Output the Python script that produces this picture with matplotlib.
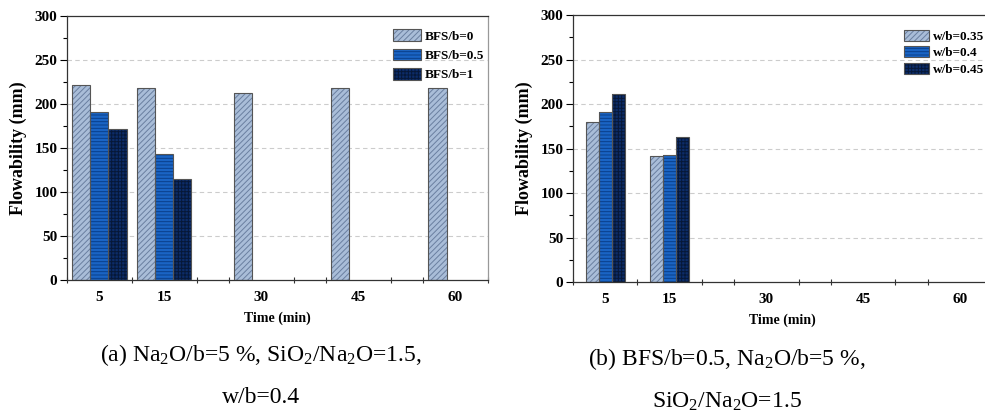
import matplotlib
matplotlib.use("Agg")
import matplotlib.pyplot as plt
from matplotlib.patches import Patch
import numpy as np

plt.rcParams['font.family'] = ['Liberation Serif', 'DejaVu Serif']
plt.rcParams['mathtext.fontset'] = 'custom'
plt.rcParams['mathtext.rm'] = 'Liberation Serif'
plt.rcParams['mathtext.it'] = 'Liberation Serif:italic'
plt.rcParams['mathtext.bf'] = 'Liberation Serif:bold'
plt.rcParams['hatch.linewidth'] = 0.7

times = [5, 15, 30, 45, 60]
time_labels = ['5', '15', '30', '45', '60']

# Panel (a)
a_labels = ['BFS/b=0', 'BFS/b=0.5', 'BFS/b=1']
a_bfs0 = [222, 218, 213, 218, 218]
a_bfs05 = [191, 143, 0, 0, 0]
a_bfs1 = [172, 115, 0, 0, 0]

# Panel (b)
b_labels = ['w/b=0.35', 'w/b=0.4', 'w/b=0.45']
b_w035 = [180, 142, 0, 0, 0]
b_w04 = [191, 143, 0, 0, 0]
b_w045 = [211, 163, 0, 0, 0]

faces = ['#a9bdd8', '#1a64c4', '#0c2c68']
hatch_cols = ['#6a7fa0', '#0a3f8a', '#061838']
hatches = ['//////', '-----', '+++++']
outline = '#555555'

fig = plt.figure(figsize=(9.85, 4.19), dpi=100)
W, H = 985, 419

def make_ax(l, t, r, b):
    return fig.add_axes([l / W, 1 - b / H, (r - l) / W, (b - t) / H])

ax1 = make_ax(67, 16, 488, 280)
ax2 = make_ax(573, 15, 992, 282)

def draw(ax, series, labels, width, step):
    ax.set_xlim(0, 65)
    ax.set_ylim(0, 300)
    ax.set_axisbelow(True)
    for y in [50, 100, 150, 200, 250]:
        ax.axhline(y, color='#cccccc', ls=(0, (4, 3)), lw=0.8, zorder=0)
    x = np.array(times, dtype=float)
    handles = []
    for i, vals in enumerate(series):
        xs = x + (i - 1) * step
        v = np.array(vals, dtype=float)
        m = v > 0
        ax.bar(xs[m], v[m], width=width, color=faces[i], edgecolor=hatch_cols[i],
               hatch=hatches[i], linewidth=0, zorder=2)
        ax.bar(xs[m], v[m], width=width, fill=False, edgecolor=outline,
               linewidth=0.8, zorder=3)
        h1 = Patch(facecolor=faces[i], edgecolor=hatch_cols[i], hatch=hatches[i], linewidth=0)
        h2 = Patch(fill=False, edgecolor=outline, linewidth=0.8)
        handles.append((h1, h2))
    ax.set_xticks(times)
    ax.set_xticklabels(time_labels)
    ax.tick_params(axis='x', which='major', length=0, pad=8)
    ax.set_xticks([0, 10, 20, 25, 35, 40, 50, 55, 65], minor=True)
    ax.tick_params(axis='x', which='minor', length=5, direction='inout', width=0.8, color='#333333')
    ax.set_yticks(np.arange(0, 301, 50))
    ax.set_yticks(np.arange(25, 300, 50), minor=True)
    ax.tick_params(axis='y', which='major', length=5, direction='out', width=0.8, pad=2)
    ax.tick_params(axis='y', which='minor', length=3, direction='out', width=0.8)
    for lab in ax.get_xticklabels() + ax.get_yticklabels():
        lab.set_fontweight('bold')
        lab.set_fontsize(11)
    for s in ['left', 'bottom', 'top']:
        ax.spines[s].set_color('#333333')
        ax.spines[s].set_linewidth(0.9)
    ax.spines['right'].set_color('#999999')
    ax.spines['right'].set_linewidth(0.9)
    ax.set_ylabel('Flowability (mm)', fontsize=13, fontweight='bold', labelpad=5)
    ax.set_xlabel('Time (min)', fontsize=10, fontweight='bold', labelpad=5)
    return handles

h1 = draw(ax1, [a_bfs0, a_bfs05, a_bfs1], a_labels, 2.8, 2.8)
ax1.legend(h1, a_labels, loc='upper right', bbox_to_anchor=(1.01, 0.98), frameon=False,
           prop={'weight': 'bold', 'size': 9.5}, handlelength=2.1, handleheight=1.0,
           handletextpad=0.3, labelspacing=0.45, borderaxespad=0.2)

h2 = draw(ax2, [b_w035, b_w04, b_w045], b_labels, 2.0, 2.0)
ax2.legend(h2, b_labels, loc='upper right', bbox_to_anchor=(1.0, 0.975), frameon=False,
           prop={'weight': 'bold', 'size': 9.5}, handlelength=1.9, handleheight=0.95,
           handletextpad=0.3, labelspacing=0.25, borderaxespad=0.2)

fs = 17
fig.text(261 / W, 1 - 355 / H, '(a) Na$_2$O/b=5 %, SiO$_2$/Na$_2$O=1.5,', ha='center', va='center', fontsize=fs)
fig.text(261 / W, 1 - 397 / H, 'w/b=0.4', ha='center', va='center', fontsize=fs)
fig.text(727 / W, 1 - 359 / H, '(b) BFS/b=0.5, Na$_2$O/b=5 %,', ha='center', va='center', fontsize=fs)
fig.text(727 / W, 1 - 402 / H, 'SiO$_2$/Na$_2$O=1.5', ha='center', va='center', fontsize=fs)

fig.savefig('out.png', dpi=100)
